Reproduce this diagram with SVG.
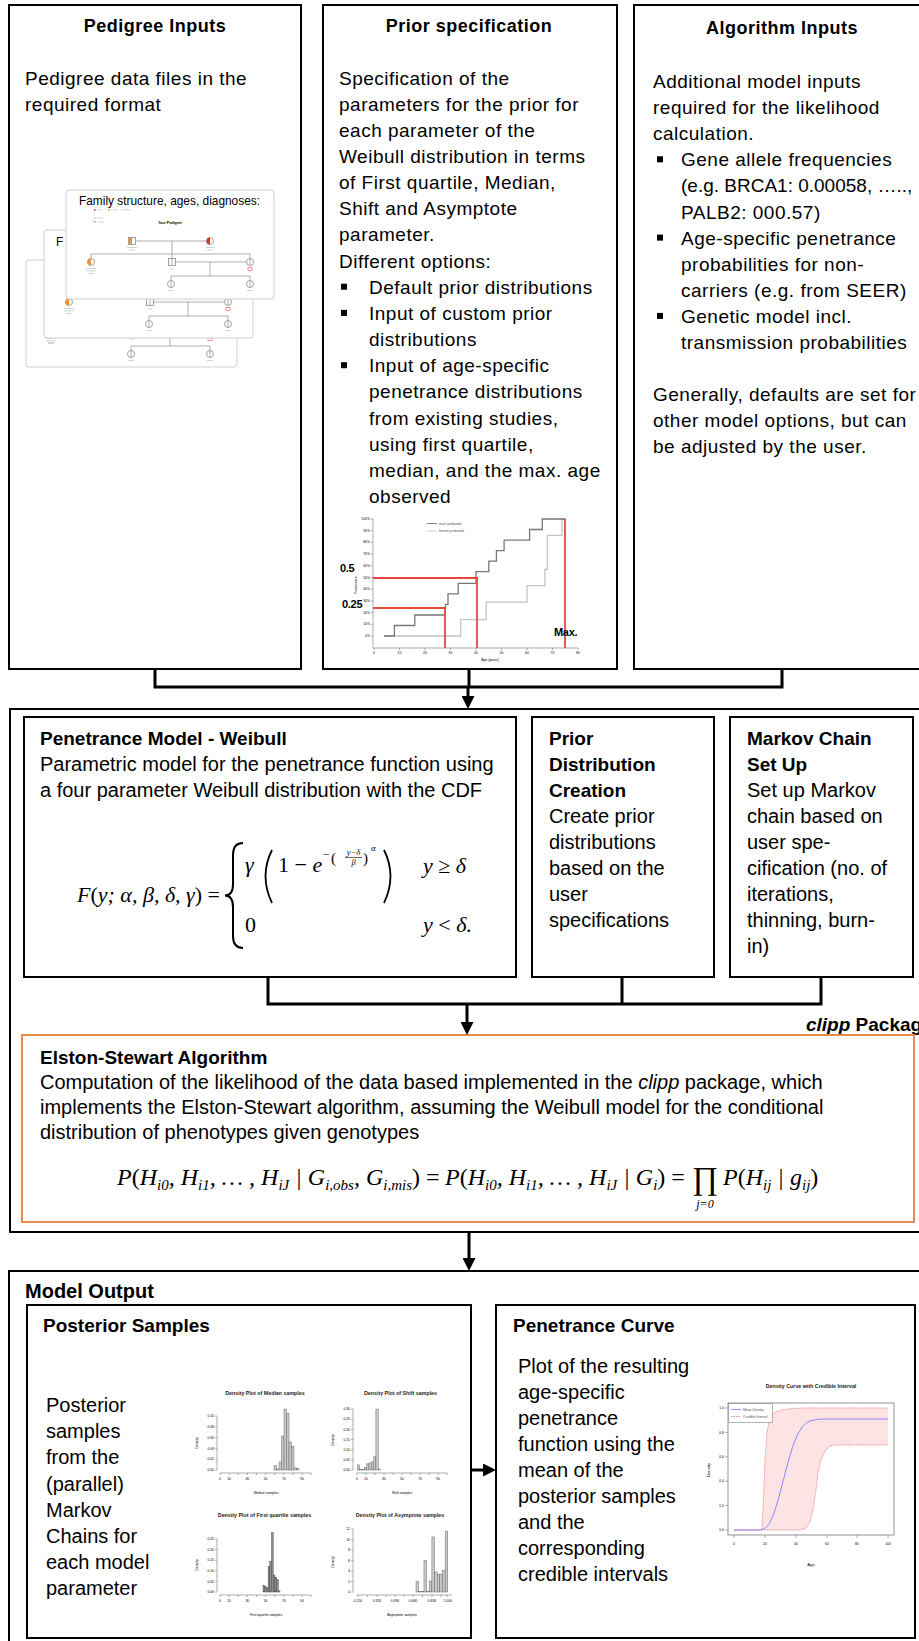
<svg xmlns="http://www.w3.org/2000/svg" width="919" height="1641" viewBox="0 0 919 1641">
<defs>
<style>
text{font-family:"Liberation Sans",Arial,sans-serif;fill:#000}
.box{fill:#fff;stroke:#000;stroke-width:2}
.obox{fill:none;stroke:#000;stroke-width:2}
.orbox{fill:none;stroke:#EB8A4E;stroke-width:2}
.conn{fill:none;stroke:#000;stroke-width:3;stroke-linejoin:miter}
.arr{fill:none;stroke:#000;stroke-width:3;marker-end:url(#ah)}
.tt{font-size:18px;font-weight:bold;letter-spacing:0.5px;text-anchor:middle}
.tb{font-size:19px;letter-spacing:0.5px}
.tn{letter-spacing:0}
.mt{font-size:19px;font-weight:bold}
.mb{font-size:20px}
.math{font-family:"Liberation Serif","Times New Roman",serif;font-style:italic}
.m22{font-size:22px}
.m24{font-size:24px}
.up{font-style:normal}
.sub{font-size:15px}
.bul{fill:#000}
.card{fill:#fff;stroke:#cfcfcf;stroke-width:1}
.pedl{fill:none;stroke:#9a9a9a;stroke-width:0.8}
.pedo{fill:#fff;stroke:#8a8a8a;stroke-width:0.8}
.lbl{fill:#c8c8c8}
.ax{fill:none;stroke:#777;stroke-width:0.6}
.tk{font-size:3.4px;fill:#555}
.tkm{font-size:3.4px;fill:#555;text-anchor:middle}
.tke{font-size:3.4px;fill:#555;text-anchor:end}
.pt{font-size:5.3px;font-weight:bold;fill:#222;text-anchor:middle}
.bar{fill:#c8c8c8;stroke:#555;stroke-width:0.4}
.bard{fill:#8c8c8c;stroke:#444;stroke-width:0.4}
.red{fill:none;stroke:#e8473d;stroke-width:1.8}
.big{font-size:11px;font-weight:bold;letter-spacing:-0.3px}
</style>
<marker id="ah" viewBox="0 0 12 12" refX="8" refY="6" markerWidth="13" markerHeight="13" markerUnits="userSpaceOnUse" orient="auto"><path d="M0,0 L12,6 L0,12 z" fill="#000"/></marker>
<g id="pedshapes">
 <path class="pedl" d="M69.5,51 H140.5 M106,51 V64 M25,64 H184 M25,64 V68.5 M106,64 V68.5 M184,64 V68.5 M109.5,72 H180.5 M144,72 V86 M105,86 H184 M105,86 V90.5 M184,86 V90.5"/>
 <rect class="pedo" x="62.5" y="47.5" width="7" height="7"/>
 <rect x="62.9" y="47.9" width="3.1" height="6.2" fill="#f0913a"/>
 <circle class="pedo" cx="144" cy="51" r="3.5"/>
 <path d="M144,47.5 A3.5,3.5 0 0 0 144,54.5 Z" fill="#d8322b"/>
 <circle class="pedo" cx="25" cy="72" r="3.5"/>
 <path d="M25,68.5 A3.5,3.5 0 0 0 25,75.5 Z" fill="#f0913a"/>
 <rect class="pedo" x="102.5" y="68.5" width="7" height="7"/>
 <path class="pedl" d="M106,68.5 V75.5"/>
 <circle class="pedo" cx="184" cy="72" r="3.5"/>
 <rect x="182" y="77.5" width="4" height="3" fill="none" stroke="#e05050" stroke-width="0.6"/>
 <circle class="pedo" cx="105" cy="94" r="3.5"/>
 <circle class="pedo" cx="184" cy="94" r="3.5"/>
 <path class="pedl" d="M105,90.5 V97.5 M184,90.5 V97.5 M184,68.5 V75.5"/>
 <rect class="lbl" x="61" y="57" width="10" height="0.8"/><rect class="lbl" x="63" y="59.5" width="6" height="0.8"/>
 <rect class="lbl" x="140" y="57" width="8" height="0.8"/><rect class="lbl" x="141" y="59.5" width="6" height="0.8"/>
 <rect class="lbl" x="20" y="78" width="10" height="0.8"/><rect class="lbl" x="20" y="80.5" width="10" height="0.8"/><rect class="lbl" x="22" y="83" width="6" height="0.8"/>
 <rect class="lbl" x="103" y="78.5" width="5" height="0.8"/>
 <rect class="lbl" x="102" y="100" width="6" height="0.8"/>
 <rect class="lbl" x="181" y="100" width="6" height="0.8"/>
</g>
</defs>
<rect width="919" height="1641" fill="#fff"/>

<!-- Top row -->
<g id="pedigree-inputs">
 <rect class="box" x="9" y="5" width="292" height="664"/>
 <text class="tt" x="155" y="32">Pedigree Inputs</text>
 <text class="tb" x="25" y="84.5">Pedigree data files in the</text>
 <text class="tb" x="25" y="110.7">required format</text>
 <g id="pedigree-figure">
  <rect class="card" x="26" y="260" width="211" height="107" rx="3"/>
  <use href="#pedshapes" x="26" y="260"/>
  <rect class="lbl" x="48" y="342" width="6" height="0.8"/>
  <rect class="card" x="44" y="230" width="209" height="108" rx="3"/>
  <use href="#pedshapes" x="44" y="230"/>
  <text x="56" y="246" font-size="11.9" fill="#5a5a5a">F</text>
  <rect class="card" x="66" y="190" width="208" height="109" rx="3"/>
  <use href="#pedshapes" x="66" y="190"/>
  <text x="169.5" y="205" font-size="11.9" fill="#5a5a5a" text-anchor="middle">Family structure, ages, diagnoses:</text>
  <rect x="94" y="209" width="1.6" height="1.6" fill="#d8322b"/><rect class="lbl" x="97" y="209.4" width="4" height="0.8"/>
  <rect x="108" y="209" width="1.6" height="1.6" fill="#f0913a"/><rect class="lbl" x="111" y="209.4" width="7" height="0.8"/>
  <rect class="lbl" x="121" y="209.4" width="10" height="0.8"/>
  <circle cx="95" cy="218" r="0.9" fill="none" stroke="#999" stroke-width="0.3"/><rect class="lbl" x="97" y="217.6" width="6" height="0.7"/>
  <rect x="94" y="221.5" width="1.8" height="1.2" fill="none" stroke="#e05050" stroke-width="0.3"/><rect class="lbl" x="97" y="221.7" width="7" height="0.7"/>
  <text x="170" y="224" font-size="3.6" font-weight="bold" fill="#333" text-anchor="middle">Your Pedigree</text>
 </g>
</g>

<g id="prior-specification">
 <rect class="box" x="323" y="5" width="294" height="664"/>
 <text class="tt" x="469" y="32">Prior specification</text>
 <text class="tb" x="339" y="84.5">Specification of the</text>
 <text class="tb" x="339" y="110.7">parameters for the prior for</text>
 <text class="tb" x="339" y="136.8">each parameter of the</text>
 <text class="tb" x="339" y="163">Weibull distribution in terms</text>
 <text class="tb" x="339" y="189.1">of First quartile, Median,</text>
 <text class="tb" x="339" y="215.3">Shift and Asymptote</text>
 <text class="tb" x="339" y="241.4">parameter.</text>
 <text class="tb" x="339" y="267.6">Different options:</text>
 <rect class="bul" x="341" y="283.7" width="6" height="6"/>
 <text class="tb" x="369" y="293.7">Default prior distributions</text>
 <rect class="bul" x="341" y="309.9" width="6" height="6"/>
 <text class="tb" x="369" y="319.9">Input of custom prior</text>
 <text class="tb" x="369" y="346">distributions</text>
 <rect class="bul" x="341" y="362.2" width="6" height="6"/>
 <text class="tb" x="369" y="372.2">Input of age-specific</text>
 <text class="tb" x="369" y="398.3">penetrance distributions</text>
 <text class="tb" x="369" y="424.5">from existing studies,</text>
 <text class="tb" x="369" y="450.6">using first quartile,</text>
 <text class="tb" x="369" y="476.8">median, and the max. age</text>
 <text class="tb" x="369" y="502.9">observed</text>
 <g id="prior-chart">
  <path class="ax" d="M373,519 V648 H578"/>
  <path class="ax" d="M371,519 H373 M371,530.7 H373 M371,542.4 H373 M371,554.1 H373 M371,565.8 H373 M371,577.5 H373 M371,589.2 H373 M371,600.9 H373 M371,612.6 H373 M371,624.3 H373 M371,636 H373 M374,648 V650 M399.5,648 V650 M425,648 V650 M450.5,648 V650 M476,648 V650 M501.5,648 V650 M527,648 V650 M552.5,648 V650 M578,648 V650"/>
  <g class="tke">
   <text x="370" y="520">100%</text><text x="370" y="531.7">90%</text><text x="370" y="543.4">80%</text><text x="370" y="555.1">70%</text><text x="370" y="566.8">60%</text><text x="370" y="578.5">50%</text><text x="370" y="590.2">40%</text><text x="370" y="601.9">30%</text><text x="370" y="613.6">20%</text><text x="370" y="625.3">10%</text><text x="370" y="637">0%</text>
  </g>
  <g class="tkm">
   <text x="374" y="654">0</text><text x="399.5" y="654">10</text><text x="425" y="654">20</text><text x="450.5" y="654">30</text><text x="476" y="654">40</text><text x="501.5" y="654">50</text><text x="527" y="654">60</text><text x="552.5" y="654">70</text><text x="578" y="654">80</text>
   <text x="490" y="660.5">Age (years)</text>
   <text x="0" y="0" transform="translate(357,585) rotate(-90)">Penetrance</text>
  </g>
  <path d="M427,523.5 H437" stroke="#666" stroke-width="0.8"/>
  <text class="tk" x="439" y="524.7">male probands</text>
  <path d="M427,531 H437" stroke="#c0c0c0" stroke-width="0.8"/>
  <text class="tk" x="439" y="532.2">female probands</text>
  <polyline fill="none" stroke="#c4c4c4" stroke-width="1.3" points="384.2,636 460.7,636 460.7,619.6 486.2,619.6 486.2,602.1 527,602.1 527,585.7 544.9,585.7 544.9,569.3 547.4,569.3 547.4,535.4 562,535.4 562,519 565.3,519"/>
  <polyline fill="none" stroke="#777" stroke-width="1.3" points="384.2,636 394.4,636 394.4,625.5 414.8,625.5 414.8,615 445.4,615 445.4,604.4 448,604.4 448,593.9 458.2,593.9 458.2,583.4 476,583.4 476,571.7 488.8,571.7 488.8,561.1 496.4,561.1 496.4,550.6 504.1,550.6 504.1,540.1 529.6,540.1 529.6,529.5 542.3,529.5 542.3,519 565.3,519"/>
  <path class="red" d="M373,578 H478 M477,578 V648 M373,608 H446 M445,608 V648 M565,519 V648"/>
  <text class="big" x="340" y="572">0.5</text>
  <text class="big" x="342" y="608">0.25</text>
  <text class="big" x="554" y="636">Max.</text>
 </g>
</g>

<g id="algorithm-inputs">
 <rect class="box" x="634" y="5" width="300" height="664"/>
 <text class="tt" x="782" y="34">Algorithm Inputs</text>
 <text class="tb" x="653" y="88">Additional model inputs</text>
 <text class="tb" x="653" y="114.1">required for the likelihood</text>
 <text class="tb" x="653" y="140.2">calculation.</text>
 <rect class="bul" x="657" y="156.3" width="6" height="6"/>
 <text class="tb" x="681" y="166.3">Gene allele frequencies</text>
 <text class="tb tn" x="681" y="192.4">(e.g. BRCA1: 0.00058, …..,</text>
 <text class="tb" x="681" y="218.5">PALB2: 000.57)</text>
 <rect class="bul" x="657" y="234.6" width="6" height="6"/>
 <text class="tb" x="681" y="244.6">Age-specific penetrance</text>
 <text class="tb" x="681" y="270.7">probabilities for non-</text>
 <text class="tb" x="681" y="296.8">carriers (e.g. from SEER)</text>
 <rect class="bul" x="657" y="312.9" width="6" height="6"/>
 <text class="tb" x="681" y="322.9">Genetic model incl.</text>
 <text class="tb" x="681" y="349">transmission probabilities</text>
 <text class="tb" x="653" y="401.2">Generally, defaults are set for</text>
 <text class="tb" x="653" y="427.3">other model options, but can</text>
 <text class="tb" x="653" y="453.4">be adjusted by the user.</text>
</g>

<!-- Middle: clipp package -->
<g id="clipp-package">
 <rect class="obox" x="10" y="709" width="925" height="523"/>
 <text x="806" y="1031" font-size="19" font-weight="bold" fill="#E8823F"><tspan font-style="italic">clipp</tspan> Package</text>
</g>

<g id="penetrance-model">
 <rect class="box" x="24" y="717" width="492" height="260"/>
 <text class="mt" x="40" y="745">Penetrance Model - Weibull</text>
 <text class="mb" x="40" y="771">Parametric model for the penetrance function using</text>
 <text class="mb" x="40" y="797">a four parameter Weibull distribution with the CDF</text>
 <text class="math m22" x="77" y="902">F<tspan class="up">(</tspan>y; α, β, δ, γ<tspan class="up">) =</tspan></text>
 <path d="M243,843 Q233,843 233,855 L233,884 Q233,895.5 225,895.5 Q233,895.5 233,907 L233,936 Q233,948 243,948" fill="none" stroke="#000" stroke-width="2"/>
 <text class="math m22" x="245" y="872">γ</text>
 <path d="M272,850 Q259,876 272,903" fill="none" stroke="#000" stroke-width="1.8"/>
 <text class="math m22" x="278" y="872"><tspan class="up">1 − </tspan>e</text>
 <text class="math up" x="323" y="858" style="font-size:12px">−</text>
 <text class="math up" x="331" y="863" style="font-size:15px">(</text>
 <text class="math" x="353.5" y="854.5" style="font-size:8.5px" text-anchor="middle">y−δ</text>
 <path d="M345,857.5 H362" stroke="#000" stroke-width="0.6"/>
 <text class="math" x="353.5" y="865" style="font-size:8.5px" text-anchor="middle">β</text>
 <text class="math up" x="363" y="863" style="font-size:15px">)</text>
 <text class="math" x="371" y="851" style="font-size:9px">α</text>
 <path d="M384,850 Q397,876 384,903" fill="none" stroke="#000" stroke-width="1.8"/>
 <text class="math m22" x="423" y="873">y <tspan class="up">≥</tspan> δ</text>
 <text class="math m22 up" x="245" y="932">0</text>
 <text class="math m22" x="423" y="932">y <tspan class="up">&lt;</tspan> δ.</text>
</g>

<g id="prior-distribution-creation">
 <rect class="box" x="532" y="717" width="182" height="260"/>
 <text class="mt" x="549" y="745">Prior</text>
 <text class="mt" x="549" y="771">Distribution</text>
 <text class="mt" x="549" y="797">Creation</text>
 <text class="mb" x="549" y="823">Create prior</text>
 <text class="mb" x="549" y="849">distributions</text>
 <text class="mb" x="549" y="875">based on the</text>
 <text class="mb" x="549" y="901">user</text>
 <text class="mb" x="549" y="927">specifications</text>
</g>

<g id="markov-chain-setup">
 <rect class="box" x="730" y="717" width="183" height="260"/>
 <text class="mt" x="747" y="745">Markov Chain</text>
 <text class="mt" x="747" y="771">Set Up</text>
 <text class="mb" x="747" y="797">Set up Markov</text>
 <text class="mb" x="747" y="823">chain based on</text>
 <text class="mb" x="747" y="849">user spe-</text>
 <text class="mb" x="747" y="875">cification (no. of</text>
 <text class="mb" x="747" y="901">iterations,</text>
 <text class="mb" x="747" y="927">thinning, burn-</text>
 <text class="mb" x="747" y="953">in)</text>
</g>

<g id="elston-stewart">
 <rect class="orbox" x="22" y="1035" width="892" height="187"/>
 <text class="mt" x="40" y="1064">Elston-Stewart Algorithm</text>
 <text class="mb" x="40" y="1089">Computation of the likelihood of the data based implemented in the <tspan font-style="italic">clipp</tspan> package, which</text>
 <text class="mb" x="40" y="1114">implements the Elston-Stewart algorithm, assuming the Weibull model for the conditional</text>
 <text class="mb" x="40" y="1139">distribution of phenotypes given genotypes</text>
 <text class="math m24" x="117" y="1185">P<tspan class="up">(</tspan>H<tspan class="sub" dy="5">i0</tspan><tspan dy="-5">, H</tspan><tspan class="sub" dy="5">i1</tspan><tspan dy="-5">, … , H</tspan><tspan class="sub" dy="5">iJ</tspan><tspan dy="-5"> | G</tspan><tspan class="sub" dy="5">i,obs</tspan><tspan dy="-5">, G</tspan><tspan class="sub" dy="5">i,mis</tspan><tspan class="up" dy="-5">) =</tspan></text>
 <text class="math m24" x="445" y="1185">P<tspan class="up">(</tspan>H<tspan class="sub" dy="5">i0</tspan><tspan dy="-5">, H</tspan><tspan class="sub" dy="5">i1</tspan><tspan dy="-5">, … , H</tspan><tspan class="sub" dy="5">iJ</tspan><tspan dy="-5"> | G</tspan><tspan class="sub" dy="5">i</tspan><tspan class="up" dy="-5">) =</tspan></text>
 <text class="math up" x="692" y="1189" style="font-size:32px">∏</text>
 <text class="math" x="705" y="1208" style="font-size:12px" text-anchor="middle">j=0</text>
 <text class="math m24" x="723" y="1185">P<tspan class="up">(</tspan>H<tspan class="sub" dy="5">ij</tspan><tspan dy="-5"> | g</tspan><tspan class="sub" dy="5">ij</tspan><tspan class="up" dy="-5">)</tspan></text>
</g>

<!-- Bottom: model output -->
<g id="model-output">
 <rect class="obox" x="9" y="1271" width="930" height="400"/>
 <text x="25" y="1298" font-size="20" font-weight="bold">Model Output</text>
</g>

<g id="posterior-samples">
 <rect class="box" x="27" y="1305" width="444" height="333"/>
 <text class="mt" x="43" y="1332">Posterior Samples</text>
 <text class="mb" x="46" y="1412">Posterior</text>
 <text class="mb" x="46" y="1438.2">samples</text>
 <text class="mb" x="46" y="1464.4">from the</text>
 <text class="mb" x="46" y="1490.6">(parallel)</text>
 <text class="mb" x="46" y="1516.8">Markov</text>
 <text class="mb" x="46" y="1543">Chains for</text>
 <text class="mb" x="46" y="1569.2">each model</text>
 <text class="mb" x="46" y="1595.4">parameter</text>
 <g id="hist-median">
  <text class="pt" x="265" y="1395">Density Plot of Median samples</text>
  <path class="ax" d="M217,1416 V1470 M215,1416 H217 M215,1426.8 H217 M215,1437.6 H217 M215,1448.4 H217 M215,1459.2 H217 M215,1470 H217 M220,1473 H311 M220,1473 V1475 M229.1,1473 V1475 M238.2,1473 V1475 M247.3,1473 V1475 M256.4,1473 V1475 M265.6,1473 V1475 M274.7,1473 V1475 M283.8,1473 V1475 M292.9,1473 V1475 M302,1473 V1475 M311,1473 V1475"/>
  <g class="tke"><text x="214" y="1417.2">0.10</text><text x="214" y="1428">0.08</text><text x="214" y="1438.8">0.06</text><text x="214" y="1449.6">0.04</text><text x="214" y="1460.4">0.02</text><text x="214" y="1471.2">0.00</text></g>
  <g class="tkm"><text x="220" y="1480">0</text><text x="229.1" y="1480">10</text><text x="247.3" y="1480">30</text><text x="265.6" y="1480">50</text><text x="283.8" y="1480">70</text><text x="302" y="1480">90</text><text x="266" y="1494">Median samples</text><text x="0" y="0" transform="translate(198,1443) rotate(-90)">Density</text></g>
  <rect class="bar" x="274" y="1465.7" width="2.5" height="4.3"/>
  <rect class="bar" x="276.5" y="1468.9" width="2.5" height="1.1"/>
  <rect class="bar" x="279" y="1461.9" width="2.5" height="8.1"/>
  <rect class="bar" x="281.5" y="1436" width="2.5" height="34"/>
  <rect class="bar" x="284" y="1409" width="2.5" height="61"/>
  <rect class="bar" x="286.5" y="1413.3" width="2.5" height="56.7"/>
  <rect class="bar" x="289" y="1441.9" width="2.5" height="28.1"/>
  <rect class="bar" x="291.5" y="1446.2" width="2.5" height="23.8"/>
  <rect class="bar" x="294" y="1467.8" width="2.5" height="2.2"/>
  <rect class="bar" x="296.5" y="1468.4" width="2.5" height="1.6"/>
 </g>
 <g id="hist-shift">
  <text class="pt" x="400.5" y="1395">Density Plot of Shift samples</text>
  <path class="ax" d="M353,1409.1 V1470 M351,1409.1 H353 M351,1419.2 H353 M351,1429.4 H353 M351,1439.5 H353 M351,1449.7 H353 M351,1459.8 H353 M351,1470 H353 M357,1473 H447 M357,1473 V1475 M366,1473 V1475 M375,1473 V1475 M384,1473 V1475 M393,1473 V1475 M402,1473 V1475 M411,1473 V1475 M420,1473 V1475 M429,1473 V1475 M438,1473 V1475 M447,1473 V1475"/>
  <g class="tke"><text x="350" y="1410.3">0.30</text><text x="350" y="1420.4">0.25</text><text x="350" y="1430.6">0.20</text><text x="350" y="1440.7">0.15</text><text x="350" y="1450.9">0.10</text><text x="350" y="1461">0.05</text><text x="350" y="1471.2">0.00</text></g>
  <g class="tkm"><text x="357" y="1480">0</text><text x="366" y="1480">10</text><text x="384" y="1480">30</text><text x="402" y="1480">50</text><text x="420" y="1480">70</text><text x="438" y="1480">90</text><text x="402" y="1494">Shift samples</text><text x="0" y="0" transform="translate(334,1440) rotate(-90)">Density</text></g>
  <rect class="bar" x="357.5" y="1464.9" width="2.3" height="5.1"/>
  <rect class="bar" x="359.8" y="1469.2" width="2.3" height="0.8"/>
  <rect class="bar" x="362.1" y="1469.4" width="2.3" height="0.6"/>
  <rect class="bar" x="364.4" y="1467.6" width="2.3" height="2.4"/>
  <rect class="bar" x="366.7" y="1463.9" width="2.3" height="6.1"/>
  <rect class="bar" x="369" y="1462.9" width="2.3" height="7.1"/>
  <rect class="bar" x="371.3" y="1461.9" width="2.3" height="8.1"/>
  <rect class="bar" x="373.6" y="1456.8" width="2.3" height="13.2"/>
  <rect class="bar" x="375.9" y="1409.1" width="2.3" height="60.9"/>
  <rect class="bar" x="378.2" y="1469" width="2.3" height="1"/>
 </g>
 <g id="hist-firstquartile">
  <text class="pt" x="264.5" y="1517">Density Plot of First quartile samples</text>
  <path class="ax" d="M217,1539 V1592 M215,1539 H217 M215,1549.6 H217 M215,1560.2 H217 M215,1570.8 H217 M215,1581.4 H217 M215,1592 H217 M220,1595 H311 M220,1595 V1597 M229.1,1595 V1597 M238.2,1595 V1597 M247.3,1595 V1597 M256.4,1595 V1597 M265.6,1595 V1597 M274.7,1595 V1597 M283.8,1595 V1597 M292.9,1595 V1597 M302,1595 V1597 M311,1595 V1597"/>
  <g class="tke"><text x="214" y="1540.2">0.25</text><text x="214" y="1550.8">0.20</text><text x="214" y="1561.4">0.15</text><text x="214" y="1572">0.10</text><text x="214" y="1582.6">0.05</text><text x="214" y="1593.2">0.00</text></g>
  <g class="tkm"><text x="220" y="1602">0</text><text x="229.1" y="1602">10</text><text x="247.3" y="1602">30</text><text x="265.6" y="1602">50</text><text x="283.8" y="1602">70</text><text x="302" y="1602">90</text><text x="266" y="1616">First quartile samples</text><text x="0" y="0" transform="translate(198,1565) rotate(-90)">Density</text></g>
  <rect class="bard" x="263" y="1585.6" width="1.7" height="6.4"/>
  <rect class="bard" x="264.7" y="1586.7" width="1.7" height="5.3"/>
  <rect class="bard" x="266.4" y="1587.8" width="1.7" height="4.2"/>
  <rect class="bard" x="268.1" y="1566.6" width="1.7" height="25.4"/>
  <rect class="bard" x="269.8" y="1561.3" width="1.7" height="30.7"/>
  <rect class="bard" x="271.5" y="1532.6" width="1.7" height="59.4"/>
  <rect class="bard" x="273.2" y="1575" width="1.7" height="17"/>
  <rect class="bard" x="274.9" y="1577.2" width="1.7" height="14.8"/>
  <rect class="bard" x="276.6" y="1579.3" width="1.7" height="12.7"/>
  <rect class="bard" x="278.3" y="1590.9" width="1.7" height="1.1"/>
 </g>
 <g id="hist-asymptote">
  <text class="pt" x="400" y="1517">Density Plot of Asymptote samples</text>
  <path class="ax" d="M353,1529 V1592 M351,1529 H353 M351,1539.5 H353 M351,1550 H353 M351,1560.5 H353 M351,1571 H353 M351,1581.5 H353 M351,1592 H353 M357,1595 H452 M358,1595 V1597 M367.5,1595 V1597 M377,1595 V1597 M386,1595 V1597 M395,1595 V1597 M404,1595 V1597 M413,1595 V1597 M422.5,1595 V1597 M432,1595 V1597 M441,1595 V1597 M447,1595 V1597"/>
  <g class="tke"><text x="350" y="1530.2">12</text><text x="350" y="1540.7">10</text><text x="350" y="1551.2">8</text><text x="350" y="1561.7">6</text><text x="350" y="1572.2">4</text><text x="350" y="1582.7">2</text><text x="350" y="1593.2">0</text></g>
  <g class="tkm"><text x="358" y="1602">0.150</text><text x="377" y="1602">0.320</text><text x="395" y="1602">0.490</text><text x="413" y="1602">0.660</text><text x="432" y="1602">0.830</text><text x="448" y="1602">1.000</text><text x="402" y="1616">Asymptote samples</text><text x="0" y="0" transform="translate(334,1562) rotate(-90)">Density</text></g>
  <rect class="bar" x="416" y="1581.5" width="2.65" height="10.5"/>
  <rect class="bar" x="418.65" y="1591.5" width="2.65" height="0.5"/>
  <rect class="bar" x="421.3" y="1591.5" width="2.65" height="0.5"/>
  <rect class="bar" x="423.95" y="1560.5" width="2.65" height="31.5"/>
  <rect class="bar" x="426.6" y="1591.5" width="2.65" height="0.5"/>
  <rect class="bar" x="429.25" y="1581" width="2.65" height="11"/>
  <rect class="bar" x="431.9" y="1536.9" width="2.65" height="55.1"/>
  <rect class="bar" x="434.55" y="1572" width="2.65" height="20"/>
  <rect class="bar" x="437.2" y="1574.7" width="2.65" height="17.3"/>
  <rect class="bar" x="439.85" y="1574.1" width="2.65" height="17.9"/>
  <rect class="bar" x="442.5" y="1570.5" width="2.65" height="21.5"/>
  <rect class="bar" x="445.15" y="1531.1" width="2.65" height="60.9"/>
 </g>
</g>

<g id="penetrance-curve">
 <rect class="box" x="496" y="1305" width="419" height="333"/>
 <text class="mt" x="513" y="1332">Penetrance Curve</text>
 <text class="mb" x="518" y="1373">Plot of the resulting</text>
 <text class="mb" x="518" y="1399">age-specific</text>
 <text class="mb" x="518" y="1425">penetrance</text>
 <text class="mb" x="518" y="1451">function using the</text>
 <text class="mb" x="518" y="1477">mean of the</text>
 <text class="mb" x="518" y="1503">posterior samples</text>
 <text class="mb" x="518" y="1529">and the</text>
 <text class="mb" x="518" y="1555">corresponding</text>
 <text class="mb" x="518" y="1581">credible intervals</text>
 <g id="curve-plot">
  <text class="pt" x="811" y="1388">Density Curve with Credible Interval</text>
  <polygon fill="#fde3e3" points="760,1530 762,1528 763.5,1500 765,1460 767,1432 770,1418 775,1412 782,1410 792,1408.5 800,1408 888,1408 888,1445 836,1445 830,1446 825,1451 821,1460 818,1473 816,1490 813,1510 810,1522 806,1528 800,1530"/>
  <polyline fill="none" stroke="#f07a7a" stroke-width="0.8" stroke-dasharray="1.5,1" points="734,1530 760,1530 762,1528 763.5,1500 765,1460 767,1432 770,1418 775,1412 782,1410 792,1408.5 800,1408 888,1408"/>
  <polyline fill="none" stroke="#f07a7a" stroke-width="0.8" stroke-dasharray="1.5,1" points="734,1530 800,1530 806,1528 810,1522 813,1510 816,1490 818,1473 821,1460 825,1451 830,1446 836,1445 888,1445"/>
  <polyline fill="none" stroke="#8a8aff" stroke-width="1" points="734,1530 760.2,1530 764.8,1528.8 769.4,1523.5 774,1513.2 778.7,1498 783.3,1480.3 787.9,1462.7 792.5,1447.2 797.1,1435.3 801.8,1427.4 806.4,1422.9 811,1420.6 818.7,1419.2 826.4,1419 888,1419"/>
  <rect x="728" y="1403" width="166" height="132" fill="none" stroke="#666" stroke-width="0.7"/>
  <path class="ax" d="M725,1408 H728 M725,1432.4 H728 M725,1456.8 H728 M725,1481.2 H728 M725,1505.6 H728 M725,1530 H728 M734,1535 V1538 M765,1535 V1538 M796,1535 V1538 M827,1535 V1538 M857,1535 V1538 M888,1535 V1538"/>
  <g class="tke"><text x="724" y="1409.2">1.0</text><text x="724" y="1433.6">0.8</text><text x="724" y="1458">0.6</text><text x="724" y="1482.4">0.4</text><text x="724" y="1506.8">0.2</text><text x="724" y="1531.2">0.0</text></g>
  <g class="tkm"><text x="734" y="1545">0</text><text x="765" y="1545">20</text><text x="796" y="1545">40</text><text x="827" y="1545">60</text><text x="857" y="1545">80</text><text x="888" y="1545">100</text><text x="811" y="1566" style="font-size:4.2px">Age</text><text x="0" y="0" style="font-size:4.2px" transform="translate(710,1470) rotate(-90)">Density</text></g>
  <rect x="728.5" y="1403.5" width="44" height="19" fill="#fff" stroke="#666" stroke-width="0.5"/>
  <path d="M731,1409.5 H741" stroke="#8a8aff" stroke-width="0.9"/>
  <text class="tk" x="743" y="1410.7">Mean Density</text>
  <path d="M731,1416.5 H741" stroke="#f07a7a" stroke-width="0.9" stroke-dasharray="1.5,1"/>
  <text class="tk" x="743" y="1417.7">Credible Interval</text>
 </g>
</g>

<!-- Connectors -->
<g id="connectors">
 <path class="conn" d="M155,669 V687 H782 V669 M469,669 V687"/>
 <path class="arr" d="M468,687 V704.7"/>
 <path class="conn" d="M268,977 V1004 H821 V977 M622,977 V1004"/>
 <path class="arr" d="M467,1004 V1030.7"/>
 <path class="arr" d="M469,1232 V1266.7"/>
 <path class="arr" d="M471,1470 H491.7"/>
</g>
</svg>
